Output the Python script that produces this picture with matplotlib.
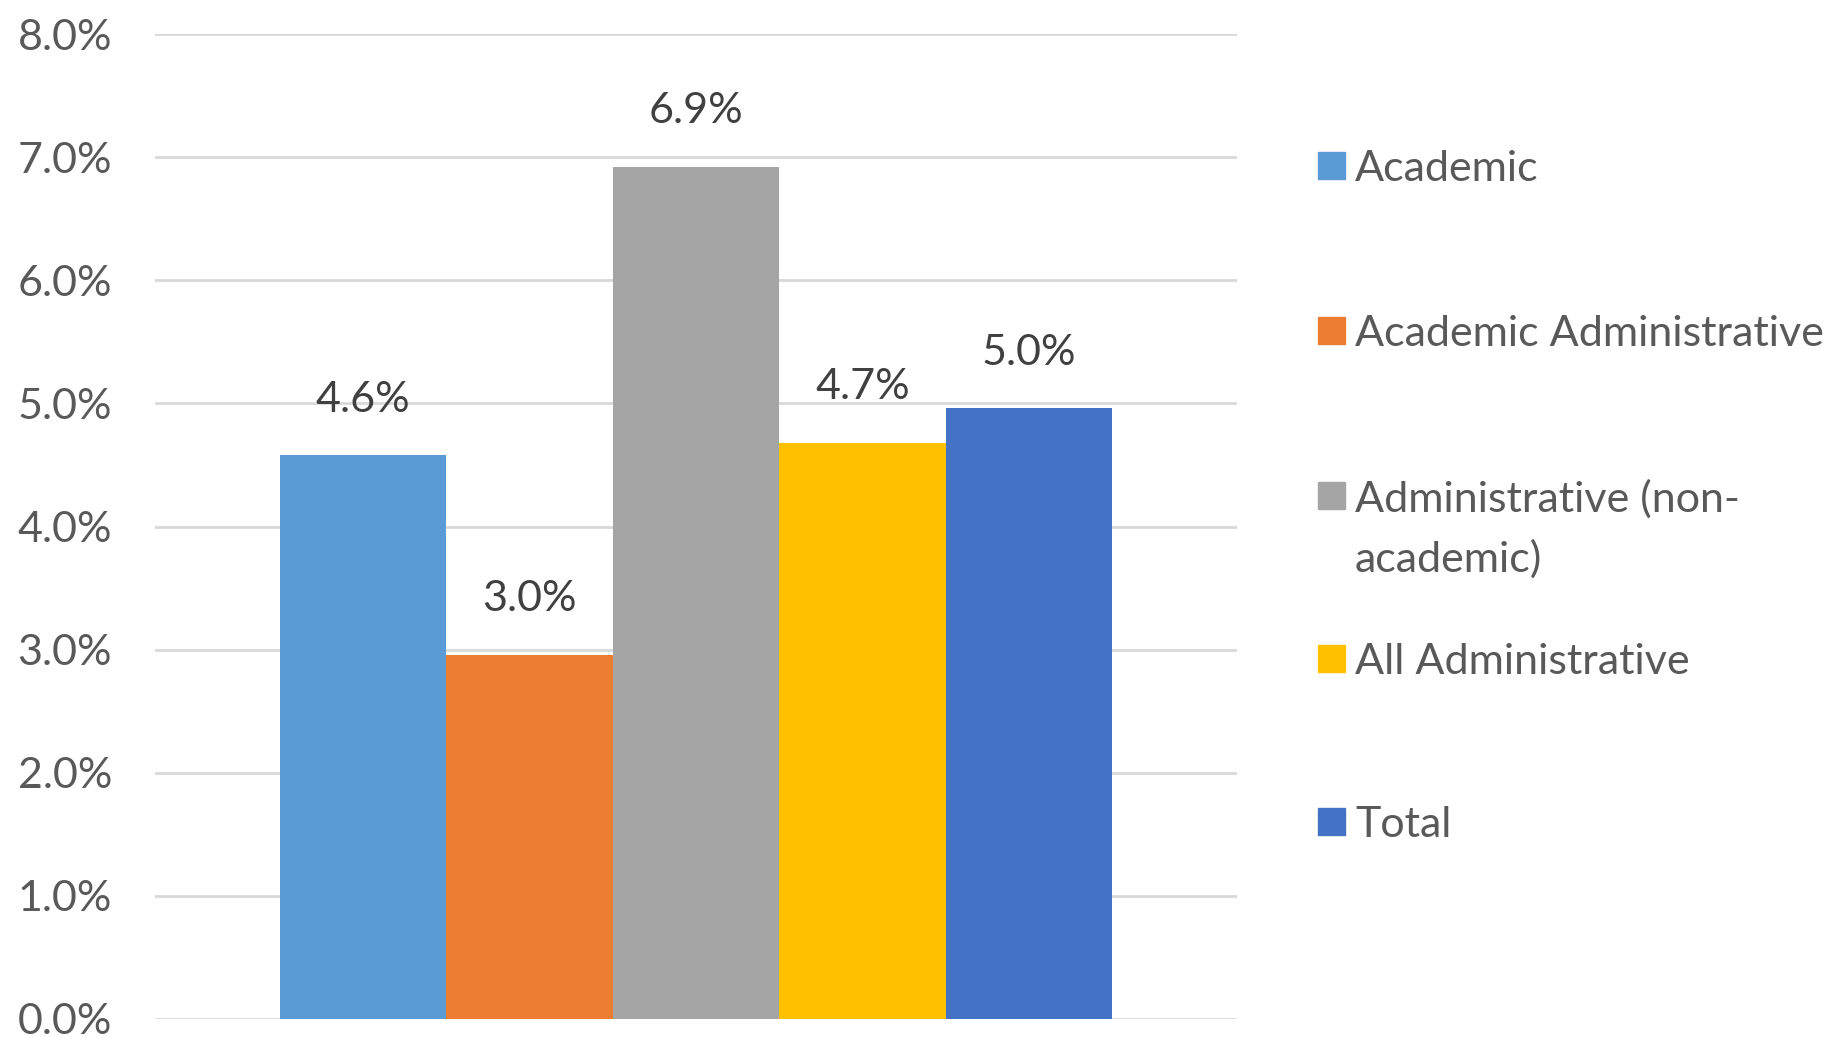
import matplotlib.pyplot as plt
from matplotlib.patches import Rectangle

categories = ['Academic', 'Academic Administrative', 'Administrative (non-\nacademic)',
              'All Administrative', 'Total']
values = [4.58, 2.96, 6.92, 4.68, 4.96]
colors = ['#5B9BD5', '#ED7D31', '#A5A5A5', '#FFC000', '#4472C4']
yticks = [0, 1, 2, 3, 4, 5, 6, 7, 8]

plt.rcParams['font.family'] = ['Lato', 'DejaVu Sans']
W, H = 1848, 1037

fig = plt.figure(figsize=(W / 100, H / 100), dpi=100)
ax = fig.add_axes([155 / W, (H - 1019) / H, (1237 - 155) / W, (1019 - 34) / H])

ax.bar(range(len(values)), values, width=1.0, color=colors, zorder=2)

# data labels above each bar
for i, v in enumerate(values):
    ax.annotate(f'{v:.1f}%', (i, v), xytext=(0, 40), textcoords='offset points',
                ha='center', va='center', fontsize=31, color='#404040')

ax.set_xlim(-1.25, 5.25)
ax.set_ylim(0, 8)
ax.set_yticks(yticks)
ax.set_yticklabels([f'{t:.1f}%' for t in yticks])
ax.set_xticks([])
ax.tick_params(axis='y', length=0, pad=31, labelsize=31, labelcolor='#595959')
ax.yaxis.grid(True, color='#D9D9D9', linewidth=2)
ax.set_axisbelow(True)
for s in ax.spines.values():
    s.set_visible(False)

# legend drawn by hand so the wrapped entry keeps its square on the first line
leg_y = [165, 330, 495, 658, 821]
line_gap = 61
for lab, c, y in zip(categories, colors, leg_y):
    fig.patches.append(Rectangle((1318 / W, (H - y - 13.5) / H), 27 / W, 27 / H,
                                 transform=fig.transFigure, color=c))
    # va='baseline' sits on the last line, so push down for wrapped labels
    extra = lab.count('\n') * line_gap
    fig.text(1355 / W, (H - y - 16 - extra) / H, lab, fontsize=31, color='#595959',
             ha='left', va='baseline', linespacing=1.63)

plt.savefig('out.png', dpi=100)
